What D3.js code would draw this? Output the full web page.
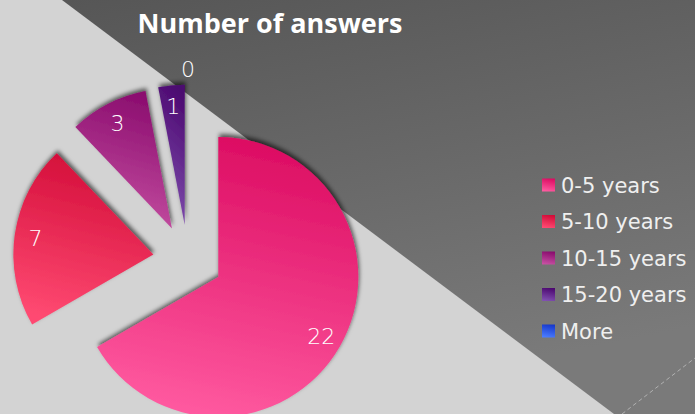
<!DOCTYPE html>
<html>
<head>
<meta charset="utf-8">
<script src="https://cdn.jsdelivr.net/npm/d3@7"></script>
<style>
  body { margin: 0; background: #d3d3d3; }
  svg { display: block; }
</style>
</head>
<body>
<svg id="chart" width="695" height="414"></svg>
<script>
var categories = ["0-5 years", "5-10 years", "10-15 years", "15-20 years", "More"];
var answers = [22, 7, 3, 1, 0];
var colorTop = ["#dc0c62", "#d20c38", "#8a0c6e", "#4c0870", "#1638cc"];
var colorBottom = ["#ff5aa0", "#ff4a72", "#c650a2", "#8050b0", "#4a7cff"];

var svg = d3.select("#chart");
var width = +svg.attr("width"), height = +svg.attr("height");
var defs = svg.append("defs");

// background: light gray with a dark diagonal panel
var bgGrad = defs.append("linearGradient").attr("id", "bgDark")
    .attr("x1", 0).attr("y1", 0).attr("x2", 0.3).attr("y2", 1);
bgGrad.append("stop").attr("offset", "0%").attr("stop-color", "#565656");
bgGrad.append("stop").attr("offset", "100%").attr("stop-color", "#7a7a7a");

svg.append("rect").attr("width", width).attr("height", height).attr("fill", "#d3d3d3");
svg.append("path")
    .attr("d", "M62,0 L695,0 L695,414 L614,414 Z")
    .attr("fill", "url(#bgDark)");
svg.append("line")
    .attr("x1", 622).attr("y1", 414).attr("x2", 695).attr("y2", 358)
    .attr("stroke", "#c8c8c8").attr("stroke-width", 1)
    .attr("stroke-dasharray", "4,3").attr("opacity", 0.7);

// gradients per slice
categories.forEach(function (c, i) {
    var g = defs.append("linearGradient").attr("id", "grad" + i)
        .attr("x1", 0.6).attr("y1", 0).attr("x2", 0.4).attr("y2", 1);
    g.append("stop").attr("offset", "0%").attr("stop-color", colorTop[i]);
    g.append("stop").attr("offset", "100%").attr("stop-color", colorBottom[i]);
});

var shadow = defs.append("filter").attr("id", "shadow")
    .attr("x", "-20%").attr("y", "-20%").attr("width", "140%").attr("height", "140%");
shadow.append("feDropShadow")
    .attr("dx", 1).attr("dy", -3).attr("stdDeviation", 2.2)
    .attr("flood-color", "#000").attr("flood-opacity", 0.6);

// title
svg.append("text")
    .attr("x", 270).attr("y", 33)
    .attr("text-anchor", "middle")
    .attr("font-family", "'Open Sans', sans-serif")
    .attr("font-weight", "bold")
    .attr("font-size", 27)
    .attr("fill", "#ffffff")
    .text("Number of answers");

// pie
var cx = 188, cy = 259.5, radius = 140, explode = 35;
var pie = d3.pie().sort(null).value(function (d) { return d; });
var arc = d3.arc().innerRadius(0).outerRadius(radius);
var arcs = pie(answers);

function offset(d, dist) {
    var a = (d.startAngle + d.endAngle) / 2;
    return [Math.sin(a) * dist, -Math.cos(a) * dist];
}

var pieG = svg.append("g").attr("transform", "translate(" + cx + "," + cy + ")");

pieG.selectAll("path")
    .data(arcs.filter(function (d) { return d.value > 0; }))
    .join("path")
    .attr("d", arc)
    .attr("transform", function (d) { var o = offset(d, explode); return "translate(" + o[0] + "," + o[1] + ")"; })
    .attr("fill", function (d) { return "url(#grad" + d.index + ")"; })
    .attr("filter", "url(#shadow)");

pieG.selectAll("text.label")
    .data(arcs)
    .join("text")
    .attr("class", "label")
    .attr("transform", function (d) {
        var dist = d.value > 0 ? explode + radius * 0.85 : explode + radius + 15;
        var o = offset(d, dist);
        return "translate(" + o[0] + "," + o[1] + ")";
    })
    .attr("text-anchor", "middle")
    .attr("dy", "0.36em")
    .attr("font-family", "'DejaVu Sans', sans-serif")
    .attr("font-weight", 300)
    .attr("font-size", 22)
    .attr("fill", "#ffffff")
    .text(function (d) { return d.value; });

// legend
var legend = svg.append("g").attr("transform", "translate(542,185)");
var rows = legend.selectAll("g")
    .data(categories)
    .join("g")
    .attr("transform", function (d, i) { return "translate(0," + (i * 36.5) + ")"; });
rows.append("rect")
    .attr("x", 0).attr("y", -6.5)
    .attr("width", 13).attr("height", 13)
    .attr("fill", function (d, i) { return "url(#grad" + i + ")"; });
rows.append("text")
    .attr("x", 19).attr("dy", "0.36em")
    .attr("font-family", "'DejaVu Sans', sans-serif")
    .attr("font-size", 21)
    .attr("fill", "#efefef")
    .text(function (d) { return d; });
</script>
</body>
</html>
